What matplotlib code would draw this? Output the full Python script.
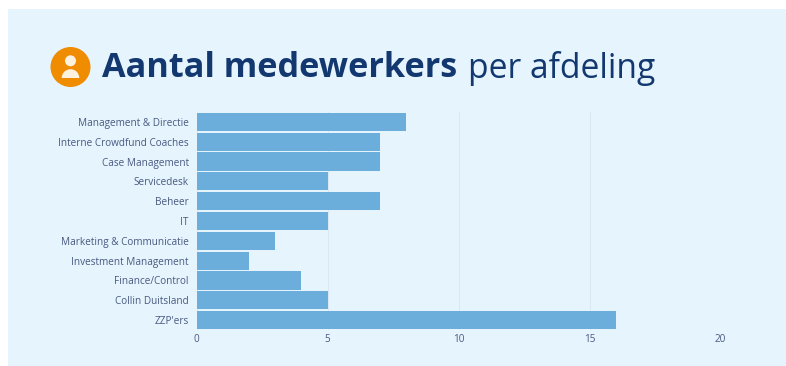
"""Horizontal bar chart of staff counts per department."""

import matplotlib

matplotlib.use("Agg")

import matplotlib.patches as mpatches
import matplotlib.pyplot as plt

DEPARTMENTS = [
    "Management & Directie",
    "Interne Crowdfund Coaches",
    "Case Management",
    "Servicedesk",
    "Beheer",
    "IT",
    "Marketing & Communicatie",
    "Investment Management",
    "Finance/Control",
    "Collin Duitsland",
    "ZZP'ers",
]
EMPLOYEES = [8, 7, 7, 5, 7, 5, 3, 2, 4, 5, 16]
X_TICKS = [0, 5, 10, 15, 20]

WIDTH, HEIGHT = 786, 366
PANEL_COLOR = "#e6f4fe"
BAR_COLOR = "#6caedb"
NAVY = "#12386f"
LABEL_COLOR = "#4a5a80"
ORANGE = "#f08c00"
ICON_LIGHT = "#fdf1e0"

plt.rcParams["font.family"] = ["Open Sans", "DejaVu Sans"]


def px_axes(fig, left, top, right, bottom, **kwargs):
    return fig.add_axes(
        [left / WIDTH, 1 - bottom / HEIGHT, (right - left) / WIDTH, (bottom - top) / HEIGHT],
        **kwargs,
    )


fig = plt.figure(figsize=(WIDTH / 100, HEIGHT / 100), dpi=100, facecolor="white")

# full-figure layer in pixel coordinates for the panel, icon and title
bg = px_axes(fig, 0, 0, WIDTH, HEIGHT)
bg.set_xlim(0, WIDTH)
bg.set_ylim(HEIGHT, 0)
bg.axis("off")
bg.add_patch(mpatches.Rectangle((8, 9), 778, 357, color=PANEL_COLOR, lw=0))
bg.add_patch(mpatches.Circle((70.5, 67), 20, color=ORANGE, lw=0))
bg.add_patch(mpatches.Circle((70.5, 60.8), 5.5, color=ICON_LIGHT, lw=0))
# shoulders: a half disc sitting on a flat base
bg.add_patch(mpatches.Wedge((70.5, 78), 8.8, 180, 360, color=ICON_LIGHT, lw=0))
bg.text(102, 68, "Aantal medewerkers", fontsize=24.7, fontweight="bold",
        color=NAVY, va="center", ha="left")
bg.text(467.5, 68, "per afdeling", fontsize=24.2, color=NAVY, va="center", ha="left")

ax = px_axes(fig, 196.5, 112, 720.5, 330)
ax.patch.set_alpha(0)
positions = list(range(len(DEPARTMENTS)))
ax.barh(positions, EMPLOYEES, height=0.92, color=BAR_COLOR, zorder=3, clip_on=False)
ax.set_xlim(0, 20)
ax.set_ylim(len(DEPARTMENTS) - 0.5, -0.5)
ax.set_yticks(positions, DEPARTMENTS, va="center_baseline")
ax.set_xticks(X_TICKS, [str(t) for t in X_TICKS])
ax.tick_params(axis="y", length=0, pad=5.5, labelsize=7.2, labelcolor=LABEL_COLOR)
ax.tick_params(axis="x", length=0, pad=2.8, labelsize=7.2, labelcolor=LABEL_COLOR)
ax.grid(axis="x", color="#dbe8f3", linewidth=0.7, zorder=0)
for spine in ax.spines.values():
    spine.set_visible(False)

fig.savefig("out.png", dpi=100)
plt.close(fig)
